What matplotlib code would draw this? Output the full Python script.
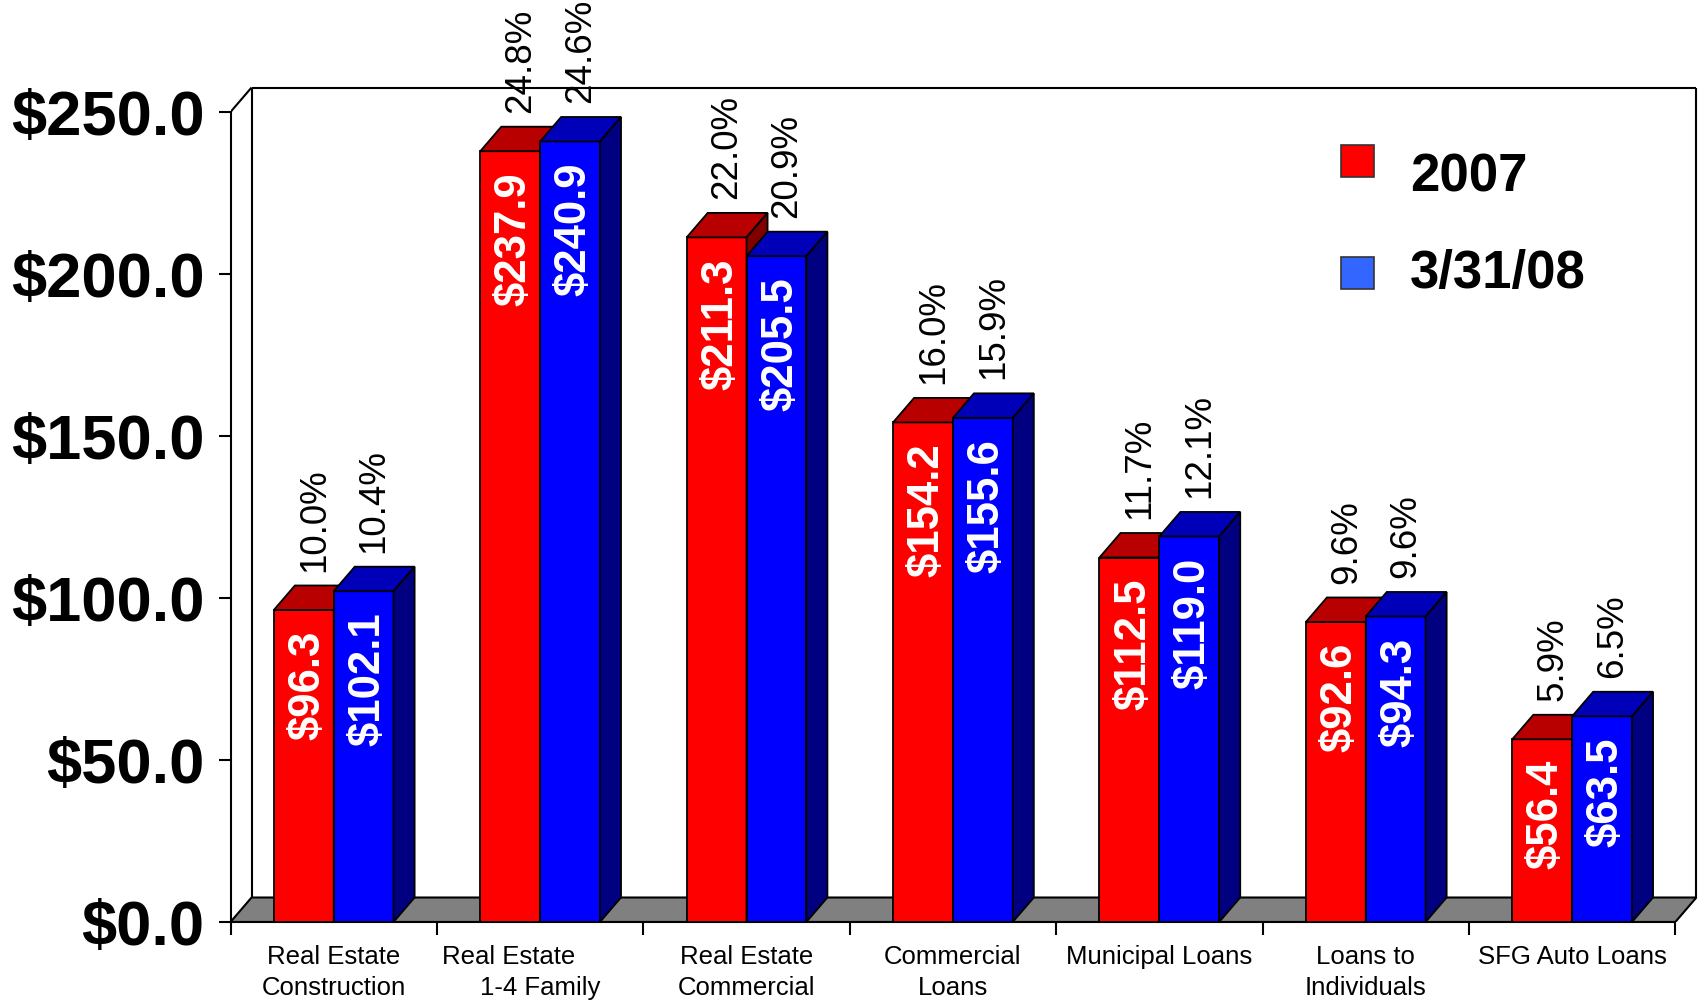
import numpy as np
import matplotlib.pyplot as plt
from matplotlib.patches import Polygon, Rectangle

plt.rcParams['font.family'] = ['Liberation Sans', 'DejaVu Sans']

categories = [
    ('Real Estate', 'Construction'),
    ('Real Estate', '1-4 Family'),
    ('Real Estate', 'Commercial'),
    ('Commercial', 'Loans'),
    ('Municipal Loans', ''),
    ('Loans to', 'Individuals'),
    ('SFG Auto Loans', ''),
]
vals_2007 = [96.3, 237.9, 211.3, 154.2, 112.5, 92.6, 56.4]
vals_2008 = [102.1, 240.9, 205.5, 155.6, 119.0, 94.3, 63.5]
pct_2007 = [10.0, 24.8, 22.0, 16.0, 11.7, 9.6, 5.9]
pct_2008 = [10.4, 24.6, 20.9, 15.9, 12.1, 9.6, 6.5]
yticks = [0, 50, 100, 150, 200, 250]
series_names = ['2007', '3/31/08']

W, H = 1705, 1002
fig = plt.figure(figsize=(W / 100, H / 100), dpi=100)
ax = fig.add_axes([230.5 / W, 80 / H, 1469.6 / W, 842.4 / H])
ax.set_xlim(-0.5, 6.62)
ax.set_ylim(0, 260)

n = len(categories)
x = np.arange(n)
bw = 0.29          # bar width in category units
dx, dy = 0.102, 7.56   # 3d depth offset
ymax = 250

# floor and back wall
floor = Polygon([(-0.5, 0), (n - 0.5, 0), (n - 0.5 + dx, dy), (-0.5 + dx, dy)],
                closed=True, facecolor='#808080', edgecolor='black', lw=1.5, zorder=1)
ax.add_patch(floor)
wall_kw = dict(color='black', lw=1.5, zorder=1, solid_capstyle='butt')
ax.plot([-0.5 + dx, -0.5 + dx], [dy, ymax + dy], **wall_kw)
ax.plot([-0.5 + dx, n - 0.5 + dx], [ymax + dy, ymax + dy], **wall_kw)
ax.plot([n - 0.5 + dx, n - 0.5 + dx], [dy, ymax + dy], **wall_kw)
ax.plot([-0.5, -0.5 + dx], [ymax, ymax + dy], **wall_kw)


def draw_bars(xs, vals, front, top, side, z):
    ax.bar(xs, vals, width=bw, align='edge', color=front, edgecolor='black', lw=1.3, zorder=z)
    for xl, v in zip(xs, vals):
        ax.add_patch(Polygon([(xl, v), (xl + bw, v), (xl + bw + dx, v + dy), (xl + dx, v + dy)],
                             facecolor=top, edgecolor='black', lw=1.3, zorder=z))
        ax.add_patch(Polygon([(xl + bw, 0), (xl + bw + dx, dy), (xl + bw + dx, v + dy), (xl + bw, v)],
                             facecolor=side, edgecolor='black', lw=1.3, zorder=z))


draw_bars(x - bw, vals_2007, '#FF0000', '#B80000', '#800000', 3)
draw_bars(x, vals_2008, '#0000FF', '#0000B8', '#000080', 4)

# value labels inside bars and share labels above
for xs, vals, pcts in [(x - bw, vals_2007, pct_2007), (x, vals_2008, pct_2008)]:
    for xl, v, p in zip(xs, vals, pcts):
        ax.annotate(f'${v:.1f}', xy=(xl + bw / 2, v), xytext=(3, -15), textcoords='offset points',
                    rotation=90, ha='center', va='top', color='white', fontsize=31.5,
                    fontweight='bold', zorder=6)
        ax.annotate(f'{p:.1f}%', xy=(xl + bw / 2 + dx / 2, v + dy), xytext=(0, 10),
                    textcoords='offset points', rotation=90, ha='center', va='bottom',
                    color='black', fontsize=26.5, zorder=6, annotation_clip=False)

# axes
for s in ['top', 'right']:
    ax.spines[s].set_visible(False)
ax.spines['left'].set_position(('data', -0.5))
ax.spines['left'].set_bounds(0, ymax)
ax.spines['bottom'].set_position(('data', 0))
ax.spines['bottom'].set_bounds(-0.5, n - 0.5)
ax.spines['left'].set_linewidth(1.5)
ax.spines['bottom'].set_linewidth(1.5)
ax.spines['left'].set_zorder(2)
ax.spines['bottom'].set_zorder(2)

ax.set_yticks(yticks)
ax.set_yticklabels([f'${t:.1f}' for t in yticks], fontsize=45.5, fontweight='bold')
ax.set_xticks(np.arange(-0.5, n, 1))
ax.set_xticklabels([])
ax.tick_params(axis='y', length=8.6, width=1.5, pad=10)
ax.tick_params(axis='x', length=9, width=1.5)

line1_shift = [0, -23, 0, 0, 0, 0, 0]
for i, (l1, l2) in enumerate(categories):
    ax.annotate(l1, xy=(i, 0), xytext=(line1_shift[i], -30), textcoords='offset points',
                ha='center', va='baseline', fontsize=18.5, annotation_clip=False)
    if l2:
        ax.annotate(l2, xy=(i, 0), xytext=(0, -52.5), textcoords='offset points',
                    ha='center', va='baseline', fontsize=18.5, annotation_clip=False)

# legend
legend_colors = ['#FF0000', '#3366FF']
legend_box_top = [145, 257]
legend_baseline = [192, 288]
for name, c, bt, bl in zip(series_names, legend_colors, legend_box_top, legend_baseline):
    fig.add_artist(Rectangle((1341 / W, 1 - (bt + 32) / H), 33 / W, 32 / H,
                             transform=fig.transFigure, facecolor=c, edgecolor='#333333', lw=1.2))
    fig.text(1410 / W, 1 - bl / H, name, fontsize=38, fontweight='bold', va='baseline')

fig.savefig('out.png', dpi=100, facecolor='white')
